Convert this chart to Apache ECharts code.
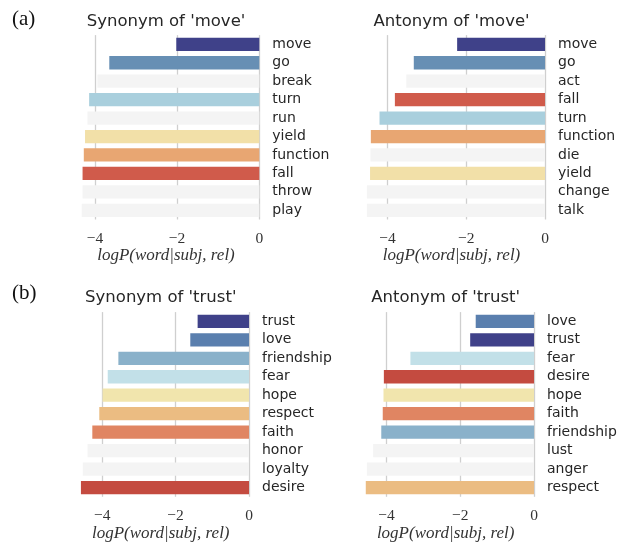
<!DOCTYPE html>
<html>
<head>
<meta charset="utf-8">
<script src="https://cdn.jsdelivr.net/npm/echarts@6/dist/echarts.min.js"></script>
<style>html,body{margin:0;padding:0;background:#fff}#c{width:628px;height:545px}</style>
</head>
<body>
<div id="c"></div>
<script>
// ---- data ----
const moveSynWords = ['move','go','break','turn','run','yield','function','fall','throw','play'];
const moveSynVals  = [-2.02,-3.65,-3.94,-4.14,-4.18,-4.24,-4.27,-4.30,-4.30,-4.32];
const moveAntWords = ['move','go','act','fall','turn','function','die','yield','change','talk'];
const moveAntVals  = [-2.23,-3.33,-3.52,-3.81,-4.20,-4.42,-4.43,-4.44,-4.52,-4.52];
const trustSynWords = ['trust','love','friendship','fear','hope','respect','faith','honor','loyalty','desire'];
const trustSynVals  = [-1.40,-1.60,-3.56,-3.85,-3.99,-4.08,-4.27,-4.40,-4.53,-4.58];
const trustAntWords = ['love','trust','fear','desire','hope','faith','friendship','lust','anger','respect'];
const trustAntVals  = [-1.58,-1.73,-3.35,-4.07,-4.08,-4.10,-4.14,-4.36,-4.53,-4.56];
const tickValues = [-4,-2,0];
const titles = ["Synonym of 'move'","Antonym of 'move'","Synonym of 'trust'","Antonym of 'trust'"];
const panelTags = ['(a)','(b)'];
const axisTitle = 'logP(word|subj, rel)';

// ---- styles ----
const GRAY = '#f4f4f4';
const moveColors = {move:'#3f4189', go:'#678fb4', turn:'#a9cfdd', yield:'#f2e0a8', 'function':'#e8a672', fall:'#d05b4b'};
const trustColors = {trust:'#3f4189', love:'#5a7fae', friendship:'#8ab1ca', fear:'#c2e0e8', hope:'#f1e5ad', respect:'#ebbc82', faith:'#e08562', desire:'#c44b40'};

const panels = [
  {words: moveSynWords,  vals: moveSynVals,  cmap: moveColors,  left: 72.7, width: 186.6, top: 35.1, height: 184.4, min: -4.54},
  {words: moveAntWords,  vals: moveAntVals,  cmap: moveColors,  left: 358,  width: 187,   top: 35.1, height: 184.4, min: -4.746},
  {words: trustSynWords, vals: trustSynVals, cmap: trustColors, left: 72.5, width: 176.5, top: 312.1, height: 184.7, min: -4.81},
  {words: trustAntWords, vals: trustAntVals, cmap: trustColors, left: 357.3, width: 176.7, top: 312.1, height: 184.7, min: -4.79}
];

const grid = [], xAxis = [], yAxis = [], series = [], graphic = [];
panels.forEach((p, i) => {
  grid.push({left: p.left, top: p.top, width: p.width, height: p.height, containLabel: false});
  xAxis.push({
    type: 'value', gridIndex: i, min: p.min, max: 0,
    axisLine: {show: false},
    axisTick: {show: false, customValues: tickValues},
    axisLabel: {customValues: tickValues, margin: 11, color: '#333', fontFamily: 'Liberation Serif', fontSize: 15.5,
      formatter: v => (v < 0 ? '\u2212' + Math.abs(v) : String(v))},
    splitLine: {show: true, lineStyle: {color: '#cfcfcf', width: 1.3}},
    name: axisTitle, nameLocation: 'middle', nameGap: 27,
    nameTextStyle: {fontFamily: 'Liberation Serif', fontStyle: 'italic', fontSize: 17, color: '#333'}
  });
  yAxis.push({
    type: 'category', gridIndex: i, data: p.words, inverse: true, position: 'right',
    axisLine: {show: false}, axisTick: {show: false},
    axisLabel: {margin: 13, color: '#262626', fontFamily: 'DejaVu Sans', fontSize: 14},
    splitLine: {show: false}
  });
  series.push({
    type: 'bar', xAxisIndex: i, yAxisIndex: i, barWidth: '72%',
    data: p.vals.map((v, k) => ({value: v, itemStyle: {color: p.cmap[p.words[k]] || GRAY}})),
    silent: true, animation: false
  });
  graphic.push({type: 'text', x: p.left + p.width / 2, y: i < 2 ? 21.5 : 297.5,
    style: {text: titles[i], fill: '#262626', font: '16.5px "DejaVu Sans"', align: 'center', verticalAlign: 'middle'}});
});
graphic.push({type: 'text', x: 12, y: 19.5, style: {text: panelTags[0], fill: '#111', font: '21px "Liberation Serif"', align: 'left', verticalAlign: 'middle'}});
graphic.push({type: 'text', x: 12, y: 293, style: {text: panelTags[1], fill: '#111', font: '21px "Liberation Serif"', align: 'left', verticalAlign: 'middle'}});

const chart = echarts.init(document.getElementById('c'), null, {renderer: 'canvas'});
chart.setOption({backgroundColor: '#fff', animation: false, grid, xAxis, yAxis, series, graphic});
</script>
</body>
</html>
